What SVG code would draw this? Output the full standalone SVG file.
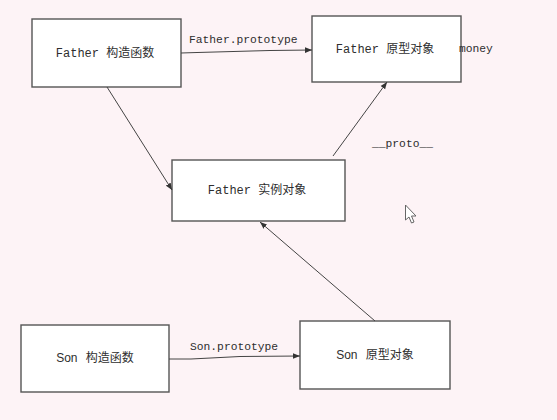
<svg xmlns="http://www.w3.org/2000/svg" width="557" height="420" viewBox="0 0 557 420">
<defs>
<style>
.box{fill:#ffffff;stroke:#555555;stroke-width:1.4}
.lbl{font-family:"Liberation Mono","Noto Sans CJK SC",monospace;font-size:12px;fill:#2e2e2e;text-anchor:middle}
.lbs{font-family:"Liberation Sans","Noto Sans CJK SC",sans-serif;font-size:12px;fill:#2e2e2e;text-anchor:middle;word-spacing:5px}
.cl{font-family:"Liberation Mono",monospace;font-size:11.3px;fill:#2e2e2e}
.con{fill:none;stroke:#444444;stroke-width:1}
</style>
<marker id="ah" viewBox="0 0 10 10" refX="10" refY="5" markerWidth="7" markerHeight="7" orient="auto" markerUnits="userSpaceOnUse">
<path d="M0,1 L10,5 L0,9 z" fill="#333333"/>
</marker>
</defs>
<rect width="557" height="420" fill="#fdf3f6"/>
<g id="father-ctor">
<rect class="box" x="32" y="19" width="149" height="68"/>
<text class="lbl" x="105" y="57">Father 构造函数</text>
</g>
<g id="father-proto">
<rect class="box" x="312" y="16" width="149" height="66"/>
<text class="lbl" x="385" y="53">Father 原型对象</text>
</g>
<text class="cl" x="459" y="52">money</text>
<g id="father-instance">
<rect class="box" x="172" y="160" width="173" height="61"/>
<text class="lbl" x="257" y="194">Father 实例对象</text>
</g>
<g id="son-ctor">
<rect class="box" x="21" y="325" width="148" height="67"/>
<text class="lbs" x="95" y="362">Son 构造函数</text>
</g>
<g id="son-proto">
<rect class="box" x="300" y="321" width="150" height="68"/>
<text class="lbs" x="375" y="359">Son 原型对象</text>
</g>
<g id="connectors">
<polyline class="con" points="181,53 197,52.5 270,50.5 312,50" marker-end="url(#ah)"/>
<text class="cl" x="189" y="43">Father.prototype</text>
<line class="con" x1="107" y1="87" x2="172" y2="190" marker-end="url(#ah)"/>
<line class="con" x1="333" y1="156" x2="387" y2="82" marker-end="url(#ah)"/>
<text class="cl" x="372" y="147">__proto__</text>
<line class="con" x1="375" y1="321" x2="260" y2="222" marker-end="url(#ah)"/>
<polyline class="con" points="169,359 191,359 240,356.5 300,356" marker-end="url(#ah)"/>
<text class="cl" x="190" y="350">Son.prototype</text>
</g>
<path d="M405.5,205 L405.5,220 L409,217 L411.5,223 L414,222 L411.5,216 L416,216 Z" fill="#ffffff" stroke="#666666" stroke-width="1"/>
</svg>
